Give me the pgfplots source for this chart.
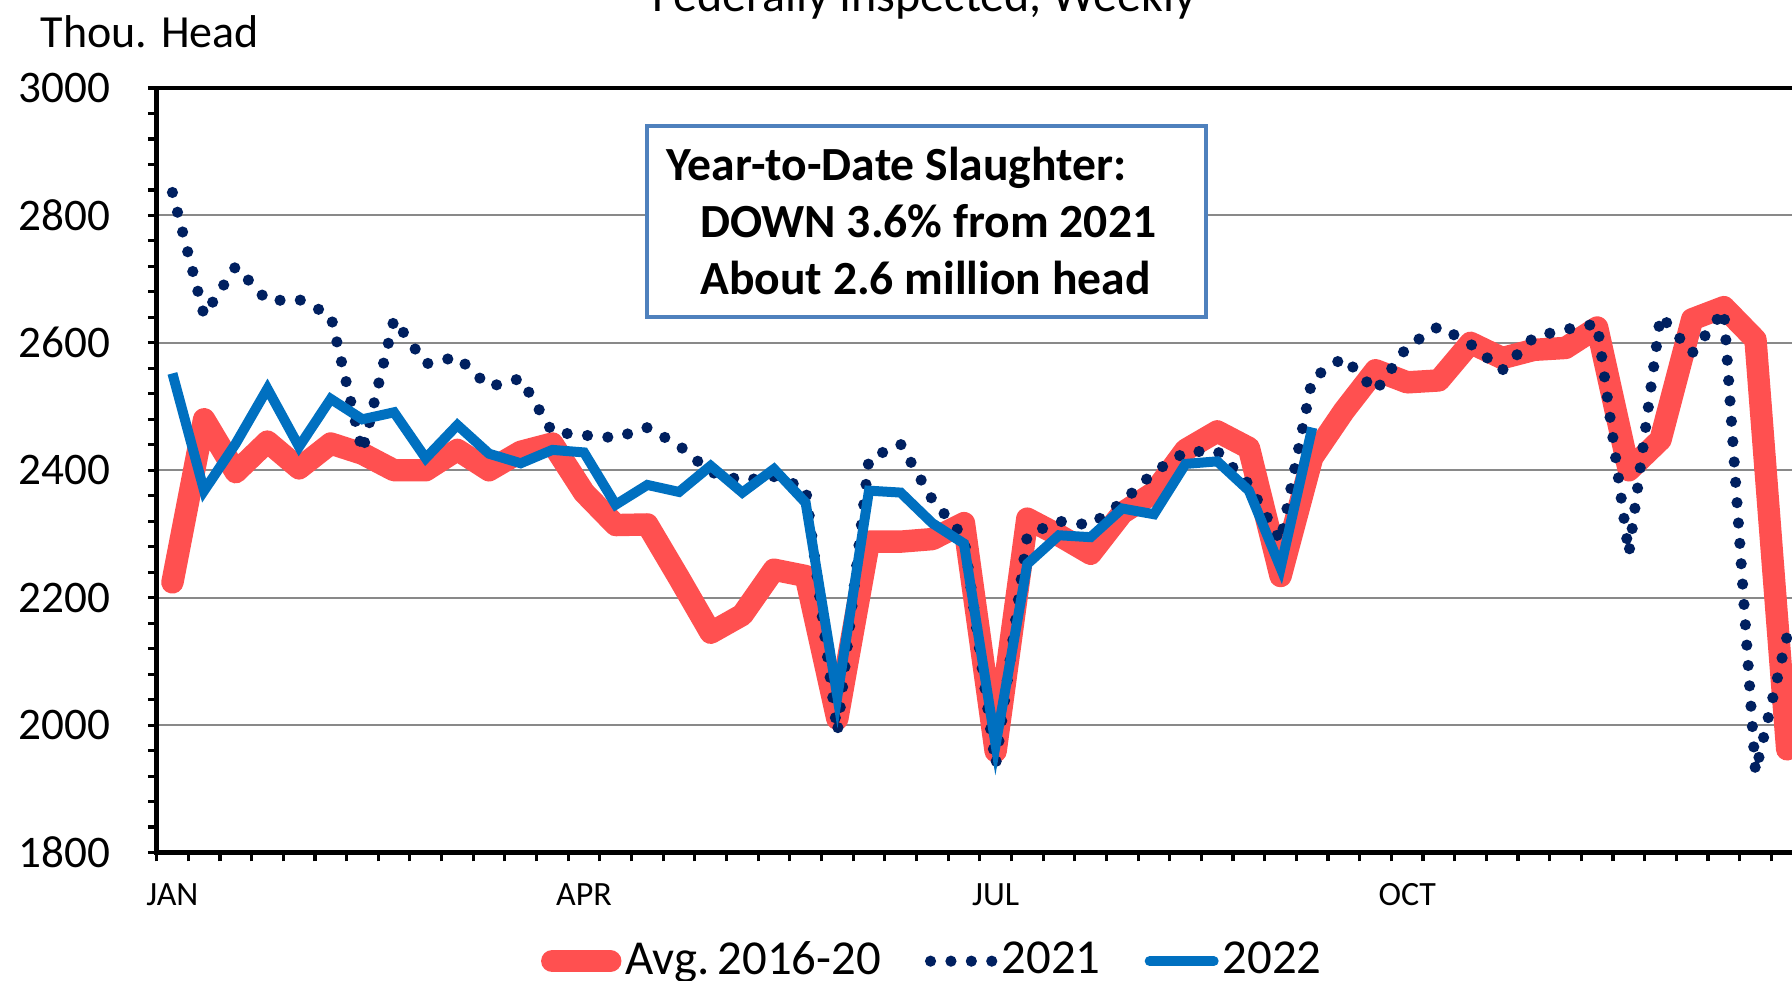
\documentclass[border=0pt]{standalone}
\usepackage{fontspec}
\setmainfont{Carlito}
\usepackage{pgfplots}
\usepackage{pgfplotstable}
\pgfplotsset{compat=1.18}
\definecolor{avgred}{HTML}{FF5050}
\definecolor{navy}{HTML}{002060}
\definecolor{blu}{HTML}{0070C0}
\definecolor{boxblue}{HTML}{4F81BD}
\definecolor{gridgray}{HTML}{898989}
\pgfplotsset{
  redleg/.style={legend image code/.code={\draw[##1] (0pt,0pt) -- (14.5pt,0pt);}},
  dotleg/.style={legend image code/.code={\draw[##1] (1pt,0pt) -- (16.4pt,0pt);}},
  blueleg/.style={legend image code/.code={\draw[##1, line cap=round] (1pt,0pt) -- (17pt,0pt);}},
}

\pgfplotstableread{
w v
1 2224
2 2480
3 2397
4 2445
5 2403
6 2442
7 2426
8 2400
9 2400
10 2432
11 2400
12 2429
13 2442
14 2365
15 2314
16 2315
17 2231
18 2145
19 2173
20 2244
21 2234
22 2010
23 2288
24 2288
25 2292
26 2317
27 1959
28 2324
29 2298
30 2269
31 2333
32 2365
33 2432
34 2461
35 2435
36 2234
37 2420
38 2493
39 2557
40 2538
41 2541
42 2600
43 2576
44 2589
45 2592
46 2624
47 2400
48 2448
49 2637
50 2656
51 2605
52 1962
}\avgtab

\pgfplotstableread{
w v
1 2836
2 2643
3 2720
4 2666
5 2668
6 2643
7 2429
8 2637
9 2567
10 2578
11 2531
12 2544
13 2460
14 2455
15 2451
16 2467
17 2439
18 2397
19 2384
20 2390
21 2372
22 1988
23 2418
24 2441
25 2354
26 2295
27 1937
28 2298
29 2320
30 2314
31 2350
32 2397
33 2429
34 2430
35 2378
36 2288
37 2544
38 2577
39 2524
40 2594
41 2626
42 2598
43 2557
44 2609
45 2621
46 2630
47 2269
48 2643
49 2584
50 2651
51 1926
52 2140
}\yrtwentyone

\pgfplotstableread{
w v
1 2552
2 2368
3 2442
4 2528
5 2437
6 2512
7 2480
8 2491
9 2419
10 2471
11 2426
12 2411
13 2432
14 2428
15 2346
16 2377
17 2366
18 2407
19 2365
20 2402
21 2349
22 2045
23 2368
24 2365
25 2317
26 2285
27 1969
28 2253
29 2298
30 2295
31 2340
32 2331
33 2410
34 2414
35 2368
36 2247
37 2467
}\yrtwentytwo

\begin{document}
\begin{tikzpicture}
\useasboundingbox (-39.15pt,-32.1pt) rectangle (408.85pt,213.15pt);
\clip (-39.15pt,-32.1pt) rectangle (408.85pt,213.15pt);
\begin{axis}[
  at={(0pt,0pt)}, anchor=south west,
  scale only axis, width=411.6pt, height=191.15pt,
  xmin=0.5, xmax=52.5, ymin=1800, ymax=3000,
  axis line style={black, line width=1.1pt},
  xtick={0.5,1.5,...,52.5}, xticklabels={},
  extra x ticks={1,14,27,40}, extra x tick labels={JAN,APR,JUL,OCT},
  extra x tick style={grid=none, major tick length=0pt,
    xticklabel style={font=\fontsize{8.5}{10}\selectfont, anchor=north, inner sep=0pt, yshift=-7.6pt}},
  ytick={1800,2000,...,3000}, minor y tick num=4,
  tick align=outside, xtick pos=left, ytick pos=left,
  major tick length=2.2pt, minor tick length=2.2pt,
  tick style={black, line width=0.8pt},
  ymajorgrids, grid style={gridgray, line width=0.5pt},
  /pgf/number format/assume math mode=true,
  /pgf/number format/1000 sep={},
  yticklabel style={font=\fontsize{11.3}{13}\selectfont, anchor=east, inner sep=0pt, xshift=-9.2pt},
  legend columns=3,
  legend style={at={(0.473,-0.142)}, anchor=center, draw=none, fill=none,
    font=\fontsize{12.2}{14}\selectfont,
    /tikz/every even column/.append style={column sep=9pt},
    /tikz/every odd column/.append style={column sep=-1pt}},
]
\addplot[avgred, line width=5.6pt, line join=round, line cap=round, redleg] table[x=w,y=v]{\avgtab};
\addlegendentry{Avg.\,2016-20}
\addplot[navy, line width=2.8pt, line cap=round, dash pattern=on 0pt off 5.1pt, dotleg] table[x=w,y=v]{\yrtwentyone};
\addlegendentry{2021}
\addplot[blu, line width=2.5pt, blueleg] table[x=w,y=v]{\yrtwentytwo};
\addlegendentry{2022}
\end{axis}
\draw[boxblue, line width=0.9pt, fill=white] (122.6pt,133.9pt) rectangle (262.35pt,181.65pt);
\node[anchor=base west, inner sep=0pt, font=\bfseries\fontsize{11.9}{14}\selectfont] at (127.35pt,168pt) {Year-to-Date Slaughter:};
\node[anchor=base west, inner sep=0pt, font=\bfseries\fontsize{11.9}{14}\selectfont] at (135.7pt,153.7pt) {DOWN 3.6\% from 2021};
\node[anchor=base west, inner sep=0pt, font=\bfseries\fontsize{11.9}{14}\selectfont] at (135.7pt,139.4pt) {About 2.6 million head};
\node[anchor=base west, inner sep=0pt, font=\fontsize{11.5}{13}\selectfont] at (-29.15pt,201.3pt) {Thou. Head};
\node[anchor=base, inner sep=0pt, font=\fontsize{12}{14}\selectfont] at (191.85pt,210.3pt) {Federally Inspected, Weekly};
\end{tikzpicture}
\end{document}
